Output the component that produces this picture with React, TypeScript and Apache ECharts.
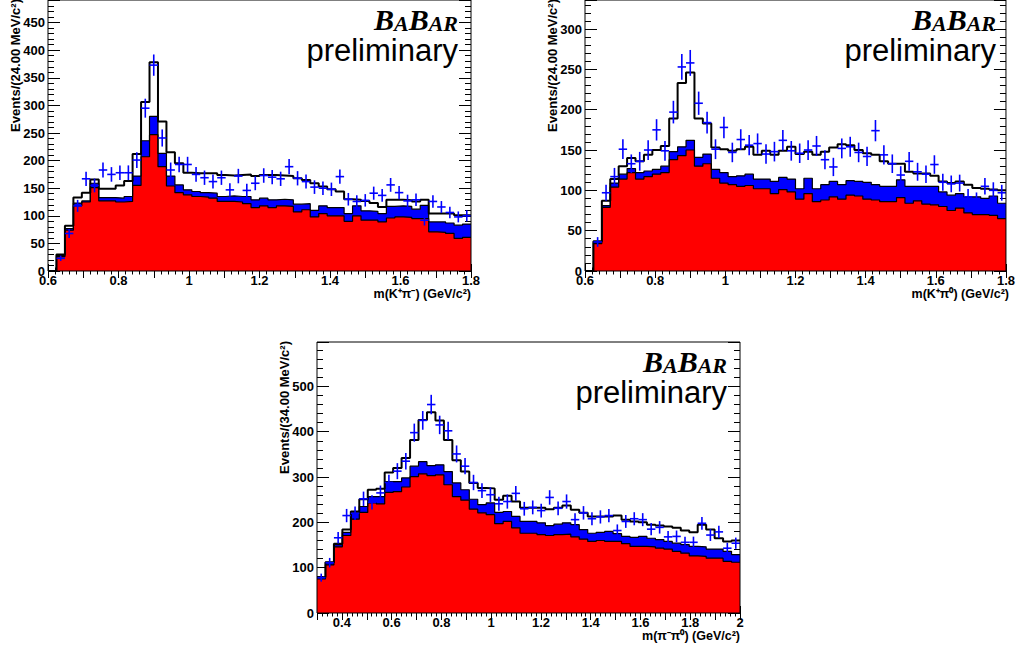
import React, { useEffect, useRef } from "react";
import * as echarts from "echarts";

// ---------- Panel 1 : m(K+ pi-) , 50 bins of 24 MeV ----------
const kpmRange = [0.6, 1.8];
const kpmYMax = 491;
const kpmData = [0, 23, 68, 118, 167, 155, 183, 175, 178, 178, 201, 295, 373, 241, 183, 193, 193, 175, 169, 162, 169, 147, 172, 146, 159, 173, 170, 167, 189, 168, 162, 152, 150, 148, 171, 130, 126, 128, 141, 137, 156, 142, 127, 129, 92, 126, 116, 106, 98, 100];
const kpmFit = [0, 30, 82, 133, 142, 166, 149, 149, 155, 163, 212, 306, 378, 271, 215, 195, 178, 177, 177, 177, 174, 173, 174, 175, 172, 174, 174, 173, 172, 168, 165, 159, 153, 148, 144, 130, 129, 127, 123, 116, 129, 129, 128, 126, 129, 104, 104, 104, 101, 101];
const kpmBlueTop = [0, 28, 77, 123, 127, 159, 133, 133, 132, 135, 172, 236, 280, 213, 172, 156, 147, 144, 142, 141, 135, 136, 135, 135, 129, 132, 129, 130, 129, 121, 122, 110, 118, 115, 115, 104, 118, 109, 108, 104, 117, 118, 117, 112, 119, 89, 89, 87, 83, 85];
const kpmRed = [0, 26, 74, 118, 125, 151, 127, 127, 125, 126, 155, 207, 247, 189, 154, 142, 138, 135, 134, 132, 126, 126, 125, 122, 115, 118, 115, 118, 117, 107, 111, 98, 104, 100, 100, 90, 100, 92, 92, 89, 96, 98, 97, 95, 95, 71, 70, 68, 59, 61];

// ---------- Panel 2 : m(K+ pi0) , 50 bins of 24 MeV ----------
const kp0Range = [0.6, 1.8];
const kp0YMax = 336;
const kp0Data = [0, 36, 97, 117, 151, 133, 136, 150, 175, 149, 197, 253, 258, 208, 184, 151, 178, 147, 163, 156, 158, 145, 148, 162, 149, 146, 150, 155, 138, 129, 152, 154, 147, 142, 174, 144, 133, 119, 136, 123, 120, 132, 110, 108, 109, 92, 88, 105, 100, 97];
const kp0Fit = [0, 37, 87, 114, 130, 140, 136, 144, 150, 155, 189, 233, 246, 189, 183, 153, 151, 149, 151, 154, 144, 149, 144, 149, 154, 145, 148, 144, 148, 153, 157, 156, 150, 146, 144, 136, 133, 133, 123, 121, 121, 118, 111, 109, 111, 107, 103, 102, 101, 100];
const kp0BlueTop = [0, 36, 81, 109, 120, 127, 122, 124, 126, 130, 148, 154, 162, 141, 145, 126, 122, 117, 118, 120, 114, 114, 111, 116, 114, 102, 115, 102, 107, 111, 107, 112, 111, 110, 107, 105, 105, 113, 105, 105, 105, 105, 98, 94, 96, 92, 92, 90, 93, 84];
const kp0Red = [0, 34, 79, 104, 114, 122, 114, 117, 120, 122, 138, 143, 150, 130, 133, 115, 109, 107, 105, 106, 102, 102, 96, 101, 98, 89, 96, 86, 88, 92, 89, 94, 93, 89, 88, 86, 86, 91, 84, 87, 83, 82, 80, 75, 78, 72, 70, 70, 69, 65];

// ---------- Panel 3 : m(pi- pi0) , 50 bins of 34 MeV ----------
const pp0Range = [0.3, 2.0];
const pp0YMax = 598;
const pp0Data = [78, 111, 166, 215, 220, 252, 244, 265, 288, 313, 335, 398, 425, 460, 415, 402, 351, 324, 288, 270, 261, 241, 246, 264, 230, 233, 226, 255, 231, 246, 206, 221, 208, 212, 215, 182, 202, 208, 206, 185, 189, 168, 169, 156, 156, 198, 172, 179, 143, 154];
const pp0Fit = [79, 112, 153, 184, 224, 251, 272, 274, 310, 320, 342, 382, 426, 443, 425, 382, 337, 312, 287, 276, 275, 250, 259, 246, 232, 232, 232, 229, 232, 237, 228, 221, 213, 213, 213, 215, 206, 202, 200, 195, 193, 191, 188, 182, 178, 195, 184, 165, 158, 160];
const pp0BlueTop = [79, 112, 151, 178, 221, 235, 257, 257, 290, 290, 298, 324, 334, 325, 327, 312, 287, 272, 251, 239, 243, 222, 224, 213, 202, 202, 199, 193, 196, 199, 195, 184, 176, 178, 180, 175, 169, 167, 169, 165, 162, 158, 154, 151, 147, 146, 141, 141, 136, 129];
const pp0Red = [75, 106, 146, 171, 207, 222, 243, 241, 266, 268, 278, 301, 307, 303, 305, 283, 257, 249, 229, 221, 217, 197, 202, 188, 176, 176, 173, 171, 173, 174, 168, 163, 158, 160, 158, 158, 153, 147, 147, 146, 143, 141, 136, 132, 126, 125, 121, 121, 114, 112];

// ---------- texts ----------
const xTitles = ["m(K\u207Aπ\u207B) (GeV/c\u00B2)", "m(K\u207Aπ\u2070) (GeV/c\u00B2)", "m(π\u207Bπ\u2070) (GeV/c\u00B2)"];
const yTitles = ["Events/(24.00 MeV/c\u00B2)", "Events/(24.00 MeV/c\u00B2)", "Events/(34.00 MeV/c\u00B2)"];
const xTickStep = 0.1;
const yMajorSteps = [50, 50, 100];
const yMinorSteps = [10, 10, 20];

const SANS = '"Liberation Sans", Arial, Helvetica, sans-serif';
const SERIF = '"Liberation Serif", "Times New Roman", serif';

type Panel = {
  grid: { left: number; top: number; width: number; height: number };
  range: number[];
  yMax: number;
  data: number[];
  fit: number[];
  blue: number[];
  red: number[];
};

const panels: Panel[] = [
  { grid: { left: 48, top: 0, width: 423, height: 271 }, range: kpmRange, yMax: kpmYMax, data: kpmData, fit: kpmFit, blue: kpmBlueTop, red: kpmRed },
  { grid: { left: 585, top: 0, width: 424, height: 271 }, range: kp0Range, yMax: kp0YMax, data: kp0Data, fit: kp0Fit, blue: kp0BlueTop, red: kp0Red },
  { grid: { left: 317, top: 342, width: 423, height: 271 }, range: pp0Range, yMax: pp0YMax, data: pp0Data, fit: pp0Fit, blue: pp0BlueTop, red: pp0Red },
];

function stepPoints(vals: number[], lo: number, hi: number) {
  const w = (hi - lo) / vals.length;
  const pts = vals.map((v, i) => [lo + i * w, v]);
  pts.push([hi, vals[vals.length - 1]]);
  return pts;
}

function crossPoints(vals: number[], lo: number, hi: number) {
  const w = (hi - lo) / vals.length;
  return vals.map((v, i) => [lo + (i + 0.5) * w, v, w]).filter((d) => d[1] > 0);
}

function buildOption() {
  const grid: any[] = [];
  const xAxis: any[] = [];
  const yAxis: any[] = [];
  const series: any[] = [];
  const graphic: any[] = [];

  panels.forEach((p, i) => {
    const g = p.grid;
    grid.push({ ...g, show: true, borderColor: "#000", borderWidth: 1, backgroundColor: "transparent", z: 5 });
    const tick = (len: number) => ({ show: true, inside: true, length: len, lineStyle: { color: "#000", width: 1 } });
    const xBase = {
      type: "value",
      gridIndex: i,
      min: p.range[0],
      max: p.range[1],
      interval: xTickStep,
      splitLine: { show: false },
      minorSplitLine: { show: false },
      axisLine: { show: false },
      axisTick: tick(7),
      minorTick: { show: true, splitNumber: 5, length: 3.5, lineStyle: { color: "#000", width: 1 } },
    };
    xAxis.push({
      ...xBase,
      position: "bottom",
      axisLabel: {
        show: true,
        margin: 3,
        color: "#000",
        fontFamily: SANS,
        fontWeight: "bold",
        fontSize: 13,
        formatter: (v: number) => {
          const k = Math.round(v * 10);
          return k % 2 === 0 ? String(k / 10) : "";
        },
      },
    });
    xAxis.push({ ...xBase, position: "top", axisLabel: { show: false } });

    const major = yMajorSteps[i];
    const minor = yMinorSteps[i];
    const yBase = (interval: number, len: number, pos: string) => ({
      type: "value",
      gridIndex: i,
      min: 0,
      max: p.yMax,
      interval,
      position: pos,
      splitLine: { show: false },
      axisLine: { show: false },
      axisTick: tick(len),
      axisLabel: { show: false },
    });
    yAxis.push({
      ...yBase(major, 12, "left"),
      axisLabel: {
        show: true,
        margin: 3,
        color: "#000",
        fontFamily: SANS,
        fontWeight: "bold",
        fontSize: 13,
        formatter: (v: number) => (Math.abs(v / major - Math.round(v / major)) < 1e-6 ? String(Math.round(v)) : ""),
      },
    });
    yAxis.push(yBase(minor, 6, "left"));
    yAxis.push(yBase(major, 12, "right"));
    yAxis.push(yBase(minor, 6, "right"));

    const xi = i * 2;
    const yi = i * 4;
    const [lo, hi] = p.range;
    series.push({
      type: "line",
      xAxisIndex: xi,
      yAxisIndex: yi,
      step: "end",
      data: stepPoints(p.blue, lo, hi),
      symbol: "none",
      silent: true,
      lineStyle: { color: "#000", width: 1.2 },
      areaStyle: { color: "#0000ff", opacity: 1 },
      z: 2,
    });
    series.push({
      type: "line",
      xAxisIndex: xi,
      yAxisIndex: yi,
      step: "end",
      data: stepPoints(p.red, lo, hi),
      symbol: "none",
      silent: true,
      lineStyle: { color: "#000", width: 1.2 },
      areaStyle: { color: "#ff0000", opacity: 1 },
      z: 2,
    });
    series.push({
      type: "line",
      xAxisIndex: xi,
      yAxisIndex: yi,
      step: "end",
      data: stepPoints(p.fit, lo, hi),
      symbol: "none",
      silent: true,
      lineStyle: { color: "#000", width: 2 },
      z: 3,
    });
    series.push({
      type: "custom",
      xAxisIndex: xi,
      yAxisIndex: yi,
      data: crossPoints(p.data, lo, hi),
      silent: true,
      z: 4,
      encode: { x: 0, y: 1 },
      renderItem: (params: any, api: any) => {
        const x = api.value(0);
        const y = api.value(1);
        const hw = api.value(2) / 2;
        const e = Math.sqrt(y);
        const a = api.coord([x - hw, y]);
        const b = api.coord([x + hw, y]);
        const c = api.coord([x, y + e]);
        const d = api.coord([x, y - e]);
        const st = { stroke: "#0000ff", lineWidth: 1.6 };
        return {
          type: "group",
          children: [
            { type: "line", shape: { x1: a[0], y1: a[1], x2: b[0], y2: b[1] }, style: st },
            { type: "line", shape: { x1: c[0], y1: c[1], x2: d[0], y2: d[1] }, style: st },
          ],
        };
      },
    });

    // axis titles
    const right = g.left + g.width;
    graphic.push({
      type: "text",
      x: right,
      y: g.top + 294,
      z: 10,
      style: {
        text: xTitles[i],
        font: `bold 12.5px ${SANS}`,
        fill: "#000",
        align: "right",
        textAlign: "right",
        verticalAlign: "middle",
        textVerticalAlign: "middle",
      },
    });
    graphic.push({
      type: "text",
      x: g.left - 33,
      y: g.top - 1,
      rotation: Math.PI / 2,
      z: 10,
      style: {
        text: yTitles[i],
        font: `bold 13px ${SANS}`,
        fill: "#000",
        align: "right",
        textAlign: "right",
        verticalAlign: "middle",
        textVerticalAlign: "middle",
      },
    });

    // BaBar logo (small caps) & preliminary
    const lr = right - 13;
    graphic.push({
      type: "text",
      x: lr,
      y: g.top + 34,
      z: 10,
      style: {
        text: "{b|B}{s|A}{b|B}{s|AR}",
        rich: {
          b: { font: `italic bold 30px ${SERIF}`, fill: "#000", verticalAlign: "bottom" },
          s: { font: `italic bold 22px ${SERIF}`, fill: "#000", verticalAlign: "bottom" },
        },
        fill: "#000",
        align: "right",
        textAlign: "right",
        verticalAlign: "bottom",
        textVerticalAlign: "bottom",
      },
    });
    graphic.push({
      type: "text",
      x: lr,
      y: g.top + 61.7 - 0.3465 * 31,
      z: 10,
      style: {
        text: "preliminary",
        font: `31px ${SANS}`,
        fill: "#000",
        align: "right",
        textAlign: "right",
        verticalAlign: "middle",
        textVerticalAlign: "middle",
      },
    });
  });

  return {
    animation: false,
    backgroundColor: "#fff",
    grid,
    xAxis,
    yAxis,
    series,
    graphic,
  };
}

export default function App() {
  const ref = useRef<HTMLDivElement>(null);
  useEffect(() => {
    if (!ref.current) return;
    const chart = echarts.init(ref.current, undefined, { renderer: "svg", width: 1018, height: 650 });
    chart.setOption(buildOption() as any);
    return () => chart.dispose();
  }, []);
  return (
    <div
      ref={ref}
      style={{ position: "absolute", left: 0, top: 0, width: 1018, height: 650, background: "#fff" }}
    />
  );
}
